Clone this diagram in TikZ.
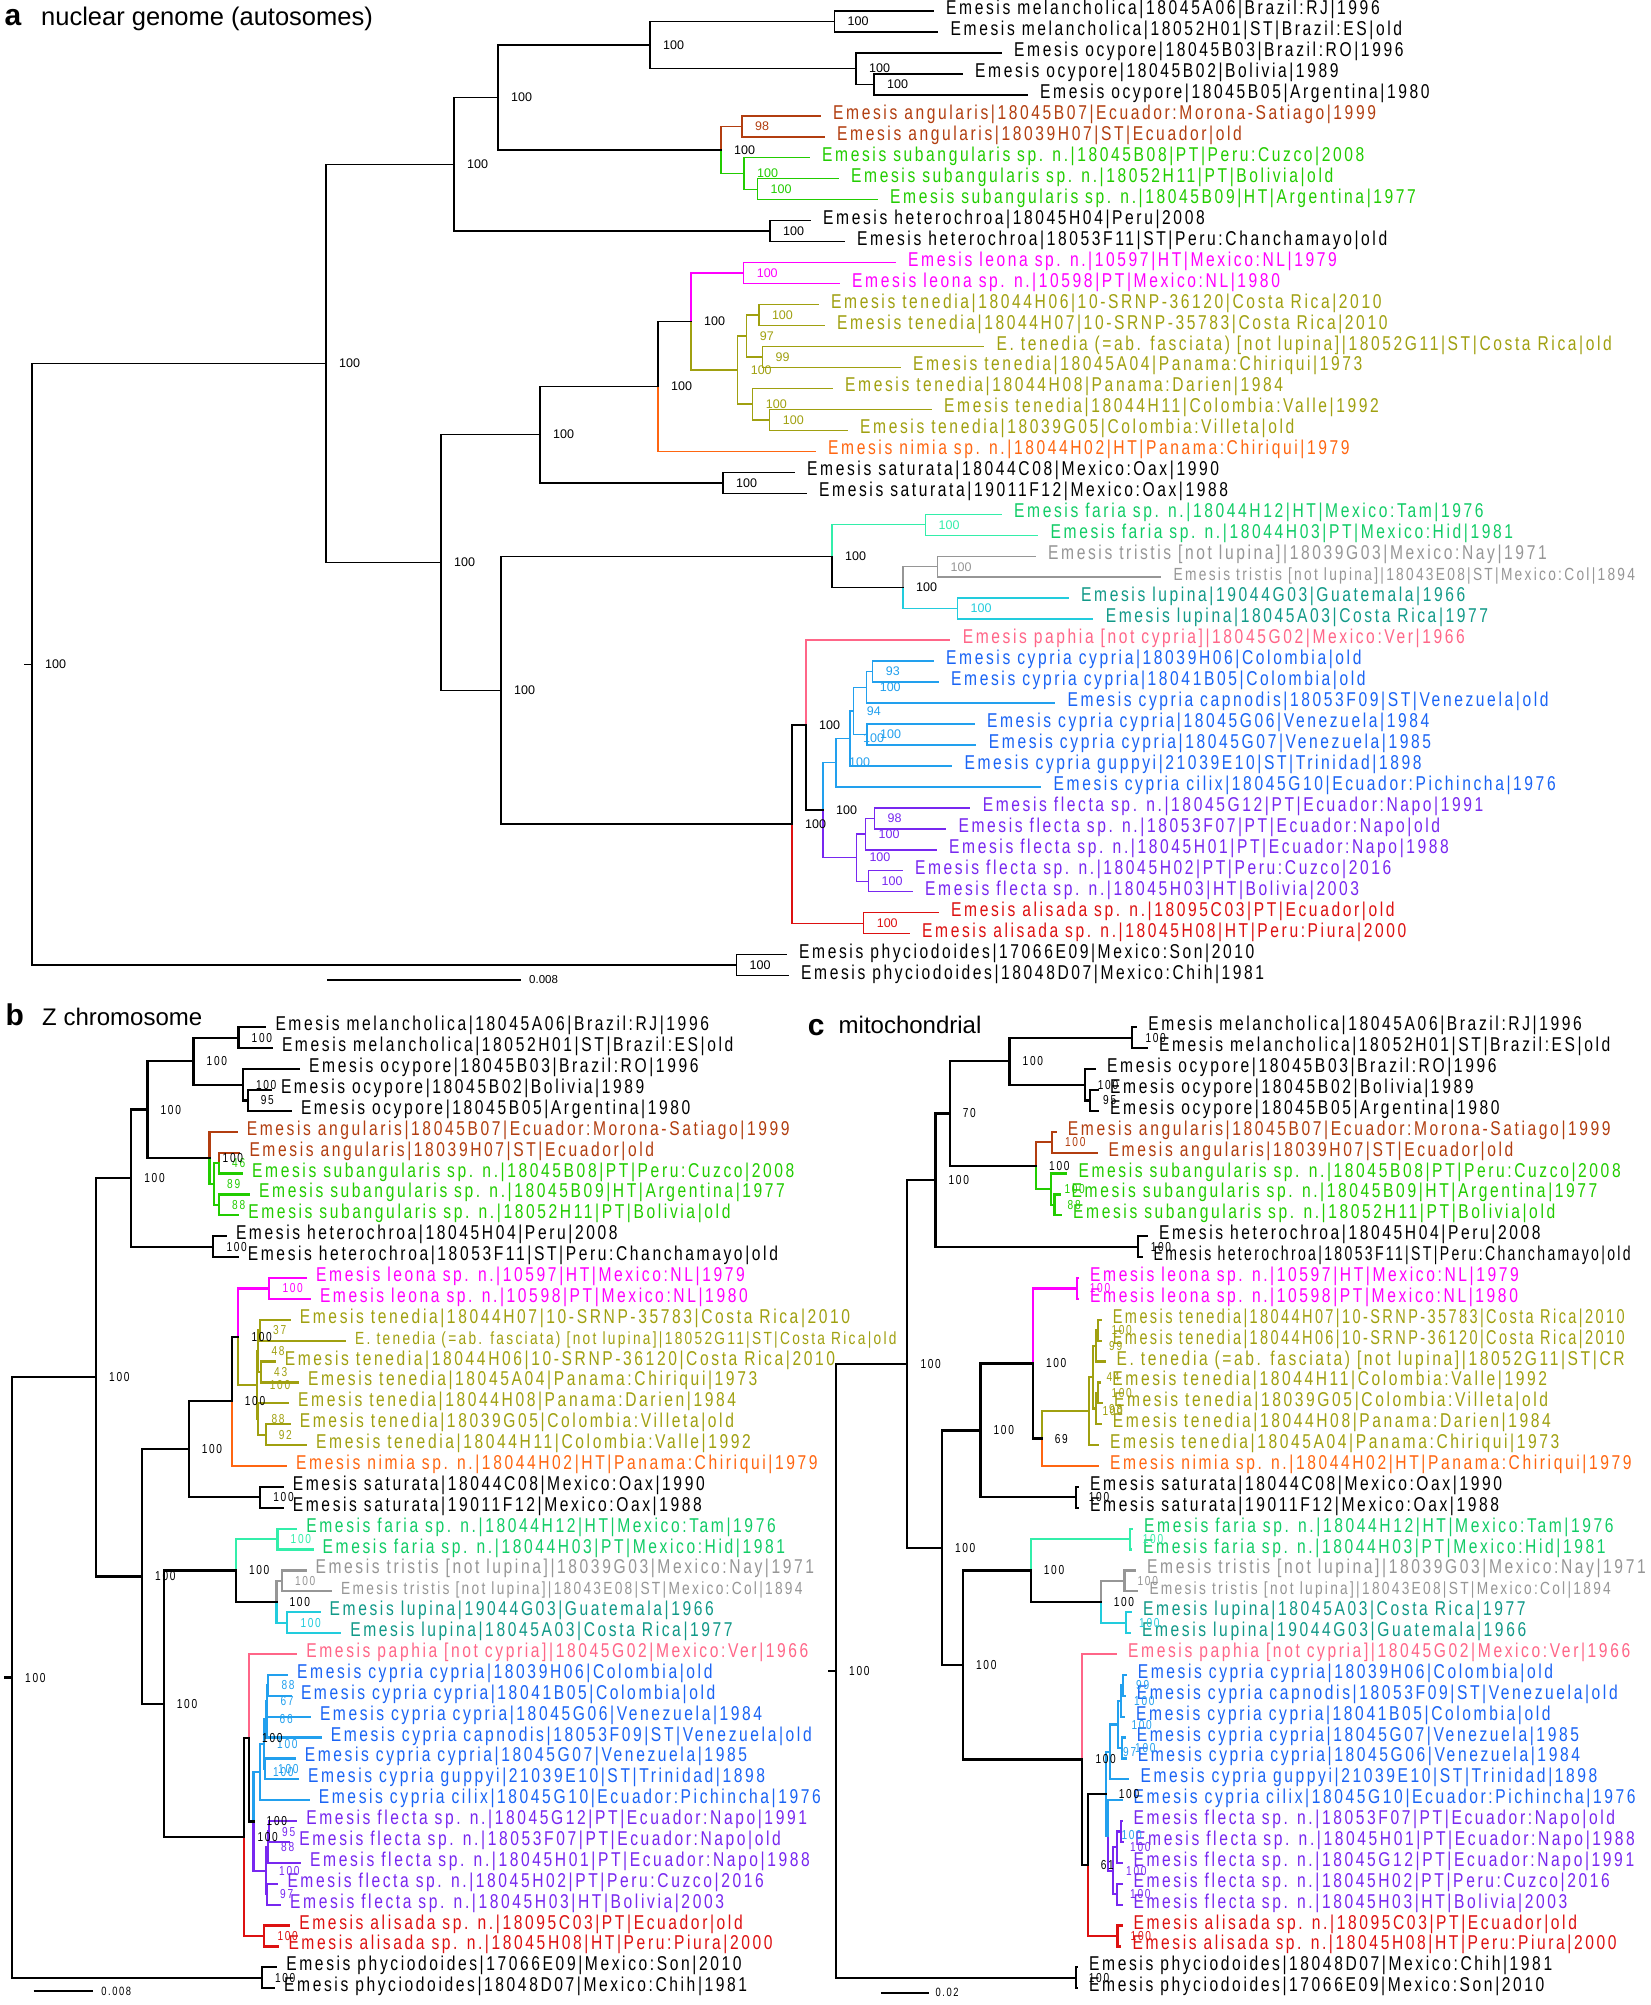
\documentclass[tikz,border=0pt]{standalone}
\usepackage{fontspec}
\setmainfont{Liberation Sans}
\newfontfamily\tipfont[FakeStretch=0.78,LetterSpace=13]{Liberation Sans}
\newfontfamily\plainfont{Liberation Sans}
\usepackage{tikz}
\usetikzlibrary{calc}

\definecolor{cAng}{RGB}{178,62,16}
\definecolor{cSub}{RGB}{34,204,0}
\definecolor{cLeo}{RGB}{255,0,255}
\definecolor{cTen}{RGB}{160,160,16}
\definecolor{cNim}{RGB}{255,102,17}
\definecolor{cFarL}{RGB}{51,238,170}
\definecolor{cFarT}{RGB}{17,204,102}
\definecolor{cTri}{RGB}{150,150,150}
\definecolor{cLupL}{RGB}{34,204,221}
\definecolor{cLupT}{RGB}{17,153,136}
\definecolor{cPap}{RGB}{255,102,136}
\definecolor{cCypL}{RGB}{34,160,238}
\definecolor{cCypT}{RGB}{26,100,245}
\definecolor{cFle}{RGB}{120,40,240}
\definecolor{cAli}{RGB}{221,17,17}

% tip rows of the current tree
\newcommand{\tipgap}{13pt}
\newcommand{\tipyzero}{11}
\newcommand{\tipdy}{20.97}

% leaf: name, row, end of branch, colour/style, label
\newcommand{\leaf}[5]{%
  \pgfmathsetmacro{\leafy}{\tipyzero+(#2-1)*\tipdy}%
  \coordinate (#1) at (#3,\leafy);
  \node[tiplab,#4] (#1t) at ([xshift=\tipgap]#1) {#5};}

% clade: name, x, child, colour, child, colour, support, colour
\newcommand{\clade}[8]{%
  \path let \p1=($(#3)!.5!(#5)$) in (#2pt,\y1) coordinate (#1);
  \draw[branch,#4] (#1) |- (#3);
  \draw[branch,#6] (#1) |- (#5);
  \node[bs,#8] (#1s) at ([xshift=13pt]#1) {#7};}

% squeezed label
\newcommand{\narrow}[2]{\scalebox{#1}[1]{#2}}

\tikzset{
  tiplab/.style={anchor=west,inner sep=0pt,text height=0.75em,text depth=0.05em,
    font=\tipfont\fontsize{20}{22}\selectfont},
  tipsmall/.style={font=\tipfont\fontsize{17.6}{19}\selectfont},
  branch/.style={line width=1.4pt,line cap=rect},
  bs/.style={anchor=west,inner sep=0pt,font=\plainfont\fontsize{12.5}{14}\selectfont},
  paneltag/.style={anchor=base west,inner sep=0pt,font=\plainfont\bfseries\fontsize{30}{32}\selectfont},
  paneltitle/.style={anchor=base west,inner sep=0pt,font=\plainfont\fontsize{24}{26}\selectfont}
}

\begin{document}
\begin{tikzpicture}[x=1pt,y=-1pt]
\fill[white] (0,0) rectangle (1650,2005);
\useasboundingbox (0,0) rectangle (1650,2005);

%% a: nuclear genome
\node[paneltag] (atag) at (4.5,25) {a};
\node[paneltitle,font=\plainfont\fontsize{25.5}{27}\selectfont] (atitle) at (41,25) {nuclear genome (autosomes)};

\leaf{a1}{1}{933}{black}{Emesis melancholica|18045A06|Brazil:RJ|1996}
\leaf{a2}{2}{937.5}{black}{Emesis melancholica|18052H01|ST|Brazil:ES|old}
\leaf{a3}{3}{1001}{black}{Emesis ocypore|18045B03|Brazil:RO|1996}
\leaf{a4}{4}{962}{black}{Emesis ocypore|18045B02|Bolivia|1989}
\leaf{a5}{5}{1027}{black}{Emesis ocypore|18045B05|Argentina|1980}
\leaf{a6}{6}{820}{cAng}{Emesis angularis|18045B07|Ecuador:Morona-Satiago|1999}
\leaf{a7}{7}{824}{cAng}{Emesis angularis|18039H07|ST|Ecuador|old}
\leaf{a8}{8}{809}{cSub}{Emesis subangularis sp. n.|18045B08|PT|Peru:Cuzco|2008}
\leaf{a9}{9}{838}{cSub}{Emesis subangularis sp. n.|18052H11|PT|Bolivia|old}
\leaf{a10}{10}{877}{cSub}{Emesis subangularis sp. n.|18045B09|HT|Argentina|1977}
\leaf{a11}{11}{810}{black}{Emesis heterochroa|18045H04|Peru|2008}
\leaf{a12}{12}{844}{black}{Emesis heterochroa|18053F11|ST|Peru:Chanchamayo|old}
\leaf{a13}{13}{895}{cLeo}{Emesis leona sp. n.|10597|HT|Mexico:NL|1979}
\leaf{a14}{14}{839}{cLeo}{Emesis leona sp. n.|10598|PT|Mexico:NL|1980}
\leaf{a15}{15}{818}{cTen}{Emesis tenedia|18044H06|10-SRNP-36120|Costa Rica|2010}
\leaf{a16}{16}{824}{cTen}{Emesis tenedia|18044H07|10-SRNP-35783|Costa Rica|2010}
\leaf{a17}{17}{983.5}{cTen}{E. tenedia (=ab. fasciata) [not lupina]|18052G11|ST|Costa Rica|old}
\leaf{a18}{18}{900}{cTen}{Emesis tenedia|18045A04|Panama:Chiriqui|1973}
\leaf{a19}{19}{832}{cTen}{Emesis tenedia|18044H08|Panama:Darien|1984}
\leaf{a20}{20}{931}{cTen}{Emesis tenedia|18044H11|Colombia:Valle|1992}
\leaf{a21}{21}{847}{cTen}{Emesis tenedia|18039G05|Colombia:Villeta|old}
\leaf{a22}{22}{815}{cNim}{Emesis nimia sp. n.|18044H02|HT|Panama:Chiriqui|1979}
\leaf{a23}{23}{794}{black}{Emesis saturata|18044C08|Mexico:Oax|1990}
\leaf{a24}{24}{806}{black}{Emesis saturata|19011F12|Mexico:Oax|1988}
\leaf{a25}{25}{1001}{cFarT}{Emesis faria sp. n.|18044H12|HT|Mexico:Tam|1976}
\leaf{a26}{26}{1037.5}{cFarT}{Emesis faria sp. n.|18044H03|PT|Mexico:Hid|1981}
\leaf{a27}{27}{1035}{cTri}{Emesis tristis [not lupina]|18039G03|Mexico:Nay|1971}
\leaf{a28}{28}{1160.5}{cTri,tipsmall}{Emesis tristis [not lupina]|18043E08|ST|Mexico:Col|1894}
\leaf{a29}{29}{1068}{cLupT}{Emesis lupina|19044G03|Guatemala|1966}
\leaf{a30}{30}{1092.6}{cLupT}{Emesis lupina|18045A03|Costa Rica|1977}
\leaf{a31}{31}{949.6}{cPap}{Emesis paphia [not cypria]|18045G02|Mexico:Ver|1966}
\leaf{a32}{32}{933}{cCypT}{Emesis cypria cypria|18039H06|Colombia|old}
\leaf{a33}{33}{938}{cCypT}{Emesis cypria cypria|18041B05|Colombia|old}
\leaf{a34}{34}{1054.4}{cCypT}{Emesis cypria capnodis|18053F09|ST|Venezuela|old}
\leaf{a35}{35}{973.9}{cCypT}{Emesis cypria cypria|18045G06|Venezuela|1984}
\leaf{a36}{36}{975.7}{cCypT}{Emesis cypria cypria|18045G07|Venezuela|1985}
\leaf{a37}{37}{951.4}{cCypT}{Emesis cypria guppyi|21039E10|ST|Trinidad|1898}
\leaf{a38}{38}{1040.5}{cCypT}{Emesis cypria cilix|18045G10|Ecuador:Pichincha|1976}
\leaf{a39}{39}{969.6}{cFle}{Emesis flecta sp. n.|18045G12|PT|Ecuador:Napo|1991}
\leaf{a40}{40}{945.4}{cFle}{Emesis flecta sp. n.|18053F07|PT|Ecuador:Napo|old}
\leaf{a41}{41}{936}{cFle}{Emesis flecta sp. n.|18045H01|PT|Ecuador:Napo|1988}
\leaf{a42}{42}{901.8}{cFle}{Emesis flecta sp. n.|18045H02|PT|Peru:Cuzco|2016}
\leaf{a43}{43}{912}{cFle}{Emesis flecta sp. n.|18045H03|HT|Bolivia|2003}
\leaf{a44}{44}{938}{cAli}{Emesis alisada sp. n.|18095C03|PT|Ecuador|old}
\leaf{a45}{45}{909}{cAli}{Emesis alisada sp. n.|18045H08|HT|Peru:Piura|2000}
\leaf{a46}{46}{786}{black}{Emesis phyciodoides|17066E09|Mexico:Son|2010}
\leaf{a47}{47}{788}{black}{Emesis phyciodoides|18048D07|Mexico:Chih|1981}

\clade{aMel}{834.5}{a1}{black}{a2}{black}{100}{black}
\clade{aOcB}{874}{a4}{black}{a5}{black}{100}{black}
\clade{aOc}{856}{a3}{black}{aOcB}{black}{100}{black}
\clade{aMO}{650}{aMel}{black}{aOc}{black}{100}{black}
\clade{aAng}{742}{a6}{cAng}{a7}{cAng}{98}{cAng}
\clade{aSubB}{757.5}{a9}{cSub}{a10}{cSub}{100}{cSub}
\clade{aSub}{744}{a8}{cSub}{aSubB}{cSub}{100}{cSub}
\clade{aAS}{721}{aAng}{cAng}{aSub}{cSub}{100}{black}
\clade{aMOAS}{498}{aMO}{black}{aAS}{black}{100}{black}
\clade{aHet}{770}{a11}{black}{a12}{black}{100}{black}
\clade{aTop}{454}{aMOAS}{black}{aHet}{black}{100}{black}
\clade{aLeo}{743.6}{a13}{cLeo}{a14}{cLeo}{100}{cLeo}
\clade{aTenA}{758.8}{a15}{cTen}{a16}{cTen}{100}{cTen}
\clade{aTenB}{762.4}{a17}{cTen}{a18}{cTen}{99}{cTen}
\clade{aTenAB}{746.7}{aTenA}{cTen}{aTenB}{cTen}{97}{cTen}
\clade{aTenC}{769.7}{a20}{cTen}{a21}{cTen}{100}{cTen}
\clade{aTenD}{752.7}{a19}{cTen}{aTenC}{cTen}{100}{cTen}
\clade{aTen}{737.6}{aTenAB}{cTen}{aTenD}{cTen}{100}{cTen}
\clade{aLT}{691}{aLeo}{cLeo}{aTen}{cTen}{100}{black}
\clade{aLTN}{658}{aLT}{black}{a22}{cNim}{100}{black}
\clade{aSat}{723}{a23}{black}{a24}{black}{100}{black}
\clade{aMid}{540}{aLTN}{black}{aSat}{black}{100}{black}
\clade{aFar}{925.4}{a25}{cFarL}{a26}{cFarL}{100}{cFarL}
\clade{aTri}{937.5}{a27}{cTri}{a28}{cTri}{100}{cTri}
\clade{aLup}{957.5}{a29}{cLupL}{a30}{cLupL}{100}{cLupL}
\clade{aTL}{903}{aTri}{cTri}{aLup}{cLupL}{100}{black}
\clade{aFTL}{832}{aFar}{cFarL}{aTL}{black}{100}{black}
\clade{aCyA}{872.7}{a32}{cCypL}{a33}{cCypL}{93}{cCypL}
\clade{aCyB}{866.6}{aCyA}{cCypL}{a34}{cCypL}{100}{cCypL}
\clade{aCyC}{867}{a35}{cCypL}{a36}{cCypL}{100}{cCypL}
\clade{aCyD}{853.6}{aCyB}{cCypL}{aCyC}{cCypL}{94}{cCypL}
\clade{aCyE}{850}{aCyD}{cCypL}{a37}{cCypL}{100}{cCypL}
\clade{aCyp}{836}{aCyE}{cCypL}{a38}{cCypL}{100}{cCypL}
\clade{aFleA}{874.5}{a39}{cFle}{a40}{cFle}{98}{cFle}
\clade{aFleB}{865.4}{aFleA}{cFle}{a41}{cFle}{100}{cFle}
\clade{aFleC}{868.4}{a42}{cFle}{a43}{cFle}{100}{cFle}
\clade{aFle}{856.3}{aFleB}{cFle}{aFleC}{cFle}{100}{cFle}
\clade{aCF}{823}{aCyp}{cCypL}{aFle}{cFle}{100}{black}
\clade{aPCF}{806}{a31}{cPap}{aCF}{black}{100}{black}
\clade{aAli}{863.6}{a44}{cAli}{a45}{cAli}{100}{cAli}
\clade{aPCFA}{792}{aPCF}{black}{aAli}{cAli}{100}{black}
\clade{aLow}{501}{aFTL}{black}{aPCFA}{black}{100}{black}
\clade{aBot}{441}{aMid}{black}{aLow}{black}{100}{black}
\clade{aIn}{326}{aTop}{black}{aBot}{black}{100}{black}
\clade{aPhy}{736.4}{a46}{black}{a47}{black}{100}{black}
\clade{aRoot}{32}{aIn}{black}{aPhy}{black}{100}{black}
\coordinate (aStub) at ([xshift=-7.5pt]aRoot);
\draw[branch] (aStub) -- (aRoot);

\coordinate (aBar0) at (327,980);
\coordinate (aBar1) at (521,980);
\draw[line width=1.4pt] (aBar0) -- (aBar1);
\node[bs,font=\plainfont\fontsize{11.5}{13}\selectfont] (aBarT) at ([xshift=8pt]aBar1) {0.008};

%% b: Z chromosome
\renewcommand{\tipgap}{10pt}
\renewcommand{\tipyzero}{1027.3}
\renewcommand{\tipdy}{20.89}
\begin{scope}[branch/.style={line width=2.2pt,line cap=rect},
  bs/.style={anchor=west,inner sep=0pt,font=\tipfont\fontsize{13}{14}\selectfont}]
\node[paneltag] (btag) at (5.4,1025) {b};
\node[paneltitle] (btitle) at (42,1025) {Z chromosome};

\leaf{b1}{1}{265.3}{black}{Emesis melancholica|18045A06|Brazil:RJ|1996}
\leaf{b2}{2}{271.8}{black}{Emesis melancholica|18052H01|ST|Brazil:ES|old}
\leaf{b3}{3}{299}{black}{Emesis ocypore|18045B03|Brazil:RO|1996}
\leaf{b4}{4}{270.8}{black}{Emesis ocypore|18045B02|Bolivia|1989}
\leaf{b5}{5}{290.8}{black}{Emesis ocypore|18045B05|Argentina|1980}
\leaf{b6}{6}{236.6}{cAng}{Emesis angularis|18045B07|Ecuador:Morona-Satiago|1999}
\leaf{b7}{7}{239.3}{cAng}{Emesis angularis|18039H07|ST|Ecuador|old}
\leaf{b8}{8}{242}{cSub}{Emesis subangularis sp. n.|18045B08|PT|Peru:Cuzco|2008}
\leaf{b9}{9}{249}{cSub}{Emesis subangularis sp. n.|18045B09|HT|Argentina|1977}
\leaf{b10}{10}{238.2}{cSub}{Emesis subangularis sp. n.|18052H11|PT|Bolivia|old}
\leaf{b11}{11}{225.8}{black}{Emesis heterochroa|18045H04|Peru|2008}
\leaf{b12}{12}{237.7}{black}{Emesis heterochroa|18053F11|ST|Peru:Chanchamayo|old}
\leaf{b13}{13}{306}{cLeo}{Emesis leona sp. n.|10597|HT|Mexico:NL|1979}
\leaf{b14}{14}{309.8}{cLeo}{Emesis leona sp. n.|10598|PT|Mexico:NL|1980}
\leaf{b15}{15}{289.7}{cTen}{Emesis tenedia|18044H07|10-SRNP-35783|Costa Rica|2010}
\leaf{b16}{16}{345}{cTen,tipsmall}{E. tenedia (=ab. fasciata) [not lupina]|18052G11|ST|Costa Rica|old}
\leaf{b17}{17}{274.6}{cTen}{Emesis tenedia|18044H06|10-SRNP-36120|Costa Rica|2010}
\leaf{b18}{18}{297.9}{cTen}{Emesis tenedia|18045A04|Panama:Chiriqui|1973}
\leaf{b19}{19}{288}{cTen}{Emesis tenedia|18044H08|Panama:Darien|1984}
\leaf{b20}{20}{289.7}{cTen}{Emesis tenedia|18039G05|Colombia:Villeta|old}
\leaf{b21}{21}{306}{cTen}{Emesis tenedia|18044H11|Colombia:Valle|1992}
\leaf{b22}{22}{286}{cNim}{Emesis nimia sp. n.|18044H02|HT|Panama:Chiriqui|1979}
\leaf{b23}{23}{282.7}{black}{Emesis saturata|18044C08|Mexico:Oax|1990}
\leaf{b24}{24}{282.7}{black}{Emesis saturata|19011F12|Mexico:Oax|1988}
\leaf{b25}{25}{296.2}{cFarT}{Emesis faria sp. n.|18044H12|HT|Mexico:Tam|1976}
\leaf{b26}{26}{312.5}{cFarT}{Emesis faria sp. n.|18044H03|PT|Mexico:Hid|1981}
\leaf{b27}{27}{305.4}{cTri}{Emesis tristis [not lupina]|18039G03|Mexico:Nay|1971}
\leaf{b28}{28}{331}{cTri,tipsmall}{Emesis tristis [not lupina]|18043E08|ST|Mexico:Col|1894}
\leaf{b29}{29}{319.5}{cLupT}{Emesis lupina|19044G03|Guatemala|1966}
\leaf{b30}{30}{340.1}{cLupT}{Emesis lupina|18045A03|Costa Rica|1977}
\leaf{b31}{31}{296.2}{cPap}{Emesis paphia [not cypria]|18045G02|Mexico:Ver|1966}
\leaf{b32}{32}{287}{cCypT}{Emesis cypria cypria|18039H06|Colombia|old}
\leaf{b33}{33}{290.8}{cCypT}{Emesis cypria cypria|18041B05|Colombia|old}
\leaf{b34}{34}{309.8}{cCypT}{Emesis cypria cypria|18045G06|Venezuela|1984}
\leaf{b35}{35}{320.6}{cCypT}{Emesis cypria capnodis|18053F09|ST|Venezuela|old}
\leaf{b36}{36}{294.6}{cCypT}{Emesis cypria cypria|18045G07|Venezuela|1985}
\leaf{b37}{37}{297.9}{cCypT}{Emesis cypria guppyi|21039E10|ST|Trinidad|1898}
\leaf{b38}{38}{308.7}{cCypT}{Emesis cypria cilix|18045G10|Ecuador:Pichincha|1976}
\leaf{b39}{39}{296.2}{cFle}{Emesis flecta sp. n.|18045G12|PT|Ecuador:Napo|1991}
\leaf{b40}{40}{289.2}{cFle}{Emesis flecta sp. n.|18053F07|PT|Ecuador:Napo|old}
\leaf{b41}{41}{300}{cFle}{Emesis flecta sp. n.|18045H01|PT|Ecuador:Napo|1988}
\leaf{b42}{42}{277.3}{cFle}{Emesis flecta sp. n.|18045H02|PT|Peru:Cuzco|2016}
\leaf{b43}{43}{280}{cFle}{Emesis flecta sp. n.|18045H03|HT|Bolivia|2003}
\leaf{b44}{44}{289.2}{cAli}{Emesis alisada sp. n.|18095C03|PT|Ecuador|old}
\leaf{b45}{45}{278.3}{cAli}{Emesis alisada sp. n.|18045H08|HT|Peru:Piura|2000}
\leaf{b46}{46}{276.2}{black}{Emesis phyciodoides|17066E09|Mexico:Son|2010}
\leaf{b47}{47}{274}{black}{Emesis phyciodoides|18048D07|Mexico:Chih|1981}

\clade{bMel}{238.5}{b1}{black}{b2}{black}{100}{black}
\clade{bOcB}{247.7}{b4}{black}{b5}{black}{95}{black}
\clade{bOc}{242.8}{b3}{black}{bOcB}{black}{100}{black}
\clade{bMO}{193.5}{bMel}{black}{bOc}{black}{100}{black}
\clade{bAS}{219}{b7}{cAng}{b8}{cSub}{46}{cSub}
\clade{bSubB}{219}{b9}{cSub}{b10}{cSub}{88}{cSub}
\clade{bSub}{214}{bAS}{cSub}{bSubB}{cSub}{89}{cSub}
\clade{bAng}{209.5}{b6}{cAng}{bSub}{cSub}{100}{black}
\clade{bMOA}{147.4}{bMO}{black}{bAng}{black}{100}{black}
\clade{bHet}{213.3}{b11}{black}{b12}{black}{100}{black}
\clade{bTop}{131.2}{bMOA}{black}{bHet}{black}{100}{black}
\clade{bLeo}{269.3}{b13}{cLeo}{b14}{cLeo}{100}{cLeo}
\clade{bTenA}{260}{b15}{cTen}{b16}{cTen}{37}{cTen}
\clade{bTenB}{261}{b17}{cTen}{b18}{cTen}{43}{cTen}
\clade{bTenAB}{258.3}{bTenA}{cTen}{bTenB}{cTen}{48}{cTen}
\clade{bTenC}{265.7}{b20}{cTen}{b21}{cTen}{92}{cTen}
\clade{bTenD}{258.3}{b19}{cTen}{bTenC}{cTen}{88}{cTen}
\clade{bTen}{256.7}{bTenAB}{cTen}{bTenD}{cTen}{100}{cTen}
\clade{bLT}{238.3}{bLeo}{cLeo}{bTen}{cTen}{100}{black}
\clade{bLTN}{231.7}{bLT}{black}{b22}{cNim}{100}{black}
\clade{bSat}{260.2}{b23}{black}{b24}{black}{100}{black}
\clade{bMid}{188.6}{bLTN}{black}{bSat}{black}{100}{black}
\clade{bFar}{277.5}{b25}{cFarL}{b26}{cFarL}{100}{cFarL}
\clade{bTri}{281.8}{b27}{cTri}{b28}{cTri}{100}{cTri}
\clade{bLup}{287.3}{b29}{cLupL}{b30}{cLupL}{100}{cLupL}
\clade{bTL}{276.4}{bTri}{cTri}{bLup}{cLupL}{100}{black}
\clade{bFTL}{235.8}{bFar}{cFarL}{bTL}{black}{100}{black}
\clade{bCyA}{268.3}{b32}{cCypL}{b33}{cCypL}{88}{cCypL}
\clade{bCyB}{267.3}{bCyA}{cCypL}{b34}{cCypL}{67}{cCypL}
\clade{bCyC}{266.5}{bCyB}{cCypL}{b35}{cCypL}{66}{cCypL}
\clade{bCyD}{265}{b36}{cCypL}{b37}{cCypL}{100}{cCypL}
\clade{bCyE}{264}{bCyC}{cCypL}{bCyD}{cCypL}{100}{cCypL}
\clade{bCyp}{260}{bCyE}{cCypL}{b38}{cCypL}{100}{cCypL}
\clade{bFleA}{269}{b39}{cFle}{b40}{cFle}{95}{cFle}
\clade{bFleB}{268}{bFleA}{cFle}{b41}{cFle}{88}{cFle}
\clade{bFleC}{267}{b42}{cFle}{b43}{cFle}{97}{cFle}
\clade{bFle}{266}{bFleB}{cFle}{bFleC}{cFle}{100}{cFle}
\clade{bCF}{253.5}{bCyp}{cCypL}{bFle}{cFle}{100}{black}
\clade{bPCF}{249}{b31}{cPap}{bCF}{black}{100}{black}
\clade{bAli}{264.3}{b44}{cAli}{b45}{cAli}{100}{cAli}
\clade{bPCFA}{244.3}{bPCF}{black}{bAli}{cAli}{100}{black}
\clade{bLow}{163.7}{bFTL}{black}{bPCFA}{black}{100}{black}
\clade{bBot}{142}{bMid}{black}{bLow}{black}{100}{black}
\clade{bIn}{96}{bTop}{black}{bBot}{black}{100}{black}
\clade{bPhy}{261.8}{b46}{black}{b47}{black}{100}{black}
\clade{bRoot}{12}{bIn}{black}{bPhy}{black}{100}{black}
\coordinate (bStub) at ([xshift=-6.6pt]bRoot);
\draw[branch] (bStub) -- (bRoot);

\coordinate (bBar0) at (33.6,1991);
\coordinate (bBar1) at (93.2,1991);
\draw[line width=2.2pt] (bBar0) -- (bBar1);
\node[bs,font=\tipfont\fontsize{12}{13}\selectfont] (bBarT) at ([xshift=8pt]bBar1) {0.008};
\end{scope}

%% c: mitochondrial
\renewcommand{\tipgap}{12pt}
\begin{scope}[branch/.style={line width=2.2pt,line cap=rect},
  bs/.style={anchor=west,inner sep=0pt,font=\tipfont\fontsize{13}{14}\selectfont}]
\node[paneltag] (ctag) at (807.6,1035) {c};
\node[paneltitle] (ctitle) at (838.5,1033) {mitochondrial};

\leaf{c1}{1}{1136.2}{black}{Emesis melancholica|18045A06|Brazil:RJ|1996}
\leaf{c2}{2}{1146.8}{black}{Emesis melancholica|18052H01|ST|Brazil:ES|old}
\leaf{c3}{3}{1095}{black}{Emesis ocypore|18045B03|Brazil:RO|1996}
\leaf{c4}{4}{1098}{black}{Emesis ocypore|18045B02|Bolivia|1989}
\leaf{c5}{5}{1098}{black}{Emesis ocypore|18045B05|Argentina|1980}
\leaf{c6}{6}{1055.7}{cAng}{Emesis angularis|18045B07|Ecuador:Morona-Satiago|1999}
\leaf{c7}{7}{1096.5}{cAng}{Emesis angularis|18039H07|ST|Ecuador|old}
\leaf{c8}{8}{1066.3}{cSub}{Emesis subangularis sp. n.|18045B08|PT|Peru:Cuzco|2008}
\leaf{c9}{9}{1059.5}{cSub}{Emesis subangularis sp. n.|18045B09|HT|Argentina|1977}
\leaf{c10}{10}{1061}{cSub}{Emesis subangularis sp. n.|18052H11|PT|Bolivia|old}
\leaf{c11}{11}{1146.8}{black}{Emesis heterochroa|18045H04|Peru|2008}
\leaf{c12}{12}{1141.5}{black}{\narrow{0.9}{Emesis heterochroa|18053F11|ST|Peru:Chanchamayo|old}}
\leaf{c13}{13}{1078}{cLeo}{Emesis leona sp. n.|10597|HT|Mexico:NL|1979}
\leaf{c14}{14}{1078}{cLeo}{Emesis leona sp. n.|10598|PT|Mexico:NL|1980}
\leaf{c15}{15}{1100.7}{cTen}{\narrow{0.93}{Emesis tenedia|18044H07|10-SRNP-35783|Costa Rica|2010}}
\leaf{c16}{16}{1100.7}{cTen}{\narrow{0.93}{Emesis tenedia|18044H06|10-SRNP-36120|Costa Rica|2010}}
\leaf{c17}{17}{1104.5}{cTen}{E. tenedia (=ab. fasciata) [not lupina]|18052G11|ST|CR}
\leaf{c18}{18}{1100.2}{cTen}{Emesis tenedia|18044H11|Colombia:Valle|1992}
\leaf{c19}{19}{1101.8}{cTen}{Emesis tenedia|18039G05|Colombia:Villeta|old}
\leaf{c20}{20}{1100.7}{cTen}{Emesis tenedia|18044H08|Panama:Darien|1984}
\leaf{c21}{21}{1098}{cTen}{Emesis tenedia|18045A04|Panama:Chiriqui|1973}
\leaf{c22}{22}{1098}{cNim}{Emesis nimia sp. n.|18044H02|HT|Panama:Chiriqui|1979}
\leaf{c23}{23}{1078}{black}{Emesis saturata|18044C08|Mexico:Oax|1990}
\leaf{c24}{24}{1078}{black}{Emesis saturata|19011F12|Mexico:Oax|1988}
\leaf{c25}{25}{1132}{cFarT}{Emesis faria sp. n.|18044H12|HT|Mexico:Tam|1976}
\leaf{c26}{26}{1131}{cFarT}{Emesis faria sp. n.|18044H03|PT|Mexico:Hid|1981}
\leaf{c27}{27}{1135}{cTri}{Emesis tristis [not lupina]|18039G03|Mexico:Nay|1971}
\leaf{c28}{28}{1137.3}{cTri,tipsmall}{Emesis tristis [not lupina]|18043E08|ST|Mexico:Col|1894}
\leaf{c29}{29}{1131}{cLupT}{Emesis lupina|18045A03|Costa Rica|1977}
\leaf{c30}{30}{1129.9}{cLupT}{Emesis lupina|19044G03|Guatemala|1966}
\leaf{c31}{31}{1116}{cPap}{Emesis paphia [not cypria]|18045G02|Mexico:Ver|1966}
\leaf{c32}{32}{1125.6}{cCypT}{Emesis cypria cypria|18039H06|Colombia|old}
\leaf{c33}{33}{1124.6}{cCypT}{Emesis cypria capnodis|18053F09|ST|Venezuela|old}
\leaf{c34}{34}{1124}{cCypT}{Emesis cypria cypria|18041B05|Colombia|old}
\leaf{c35}{35}{1124.6}{cCypT}{Emesis cypria cypria|18045G07|Venezuela|1985}
\leaf{c36}{36}{1125.6}{cCypT}{Emesis cypria cypria|18045G06|Venezuela|1984}
\leaf{c37}{37}{1128.3}{cCypT}{Emesis cypria guppyi|21039E10|ST|Trinidad|1898}
\leaf{c38}{38}{1121.4}{cCypT}{Emesis cypria cilix|18045G10|Ecuador:Pichincha|1976}
\leaf{c39}{39}{1121.4}{cFle}{Emesis flecta sp. n.|18053F07|PT|Ecuador:Napo|old}
\leaf{c40}{40}{1123}{cFle}{Emesis flecta sp. n.|18045H01|PT|Ecuador:Napo|1988}
\leaf{c41}{41}{1121.4}{cFle}{Emesis flecta sp. n.|18045G12|PT|Ecuador:Napo|1991}
\leaf{c42}{42}{1121.4}{cFle}{Emesis flecta sp. n.|18045H02|PT|Peru:Cuzco|2016}
\leaf{c43}{43}{1121.4}{cFle}{Emesis flecta sp. n.|18045H03|HT|Bolivia|2003}
\leaf{c44}{44}{1121.4}{cAli}{Emesis alisada sp. n.|18095C03|PT|Ecuador|old}
\leaf{c45}{45}{1120.3}{cAli}{Emesis alisada sp. n.|18045H08|HT|Peru:Piura|2000}
\leaf{c46}{46}{1077}{black}{Emesis phyciodoides|18048D07|Mexico:Chih|1981}
\leaf{c47}{47}{1077}{black}{Emesis phyciodoides|17066E09|Mexico:Son|2010}

\clade{cMel}{1132.3}{c1}{black}{c2}{black}{100}{black}
\clade{cOcB}{1090}{c4}{black}{c5}{black}{95}{black}
\clade{cOc}{1084.7}{c3}{black}{cOcB}{black}{100}{black}
\clade{cMO}{1009.5}{cMel}{black}{cOc}{black}{100}{black}
\clade{cAng}{1051.9}{c6}{cAng}{c7}{cAng}{100}{cAng}
\clade{cSubB}{1054.5}{c9}{cSub}{c10}{cSub}{88}{cSub}
\clade{cSub}{1051.3}{c8}{cSub}{cSubB}{cSub}{100}{cSub}
\clade{cAS}{1036}{cAng}{cAng}{cSub}{cSub}{100}{black}
\clade{cMOA}{949.7}{cMO}{black}{cAS}{black}{70}{black}
\clade{cHet}{1137.6}{c11}{black}{c12}{black}{100}{black}
\clade{cTop}{935.4}{cMOA}{black}{cHet}{black}{100}{black}
\clade{cLeo}{1076.7}{c13}{cLeo}{c14}{cLeo}{100}{cLeo}
\clade{cTenA}{1098.3}{c15}{cTen}{c16}{cTen}{100}{cTen}
\clade{cTenB}{1096}{cTenA}{cTen}{c17}{cTen}{99}{cTen}
\clade{cTenC}{1098.3}{c18}{cTen}{c19}{cTen}{100}{cTen}
\clade{cTenD}{1096}{cTenC}{cTen}{c20}{cTen}{98}{cTen}
\clade{cTenE}{1093.3}{cTenB}{cTen}{cTenD}{cTen}{44}{cTen}
\clade{cTen}{1089.3}{cTenE}{cTen}{c21}{cTen}{100}{cTen}
\clade{cTN}{1041.7}{cTen}{cTen}{c22}{cNim}{69}{black}
\clade{cLTN}{1032.8}{cLeo}{cLeo}{cTN}{black}{100}{black}
\clade{cSat}{1075.7}{c23}{black}{c24}{black}{100}{black}
\clade{cMid}{980.4}{cLTN}{black}{cSat}{black}{100}{black}
\clade{cFar}{1129.7}{c25}{cFarL}{c26}{cFarL}{100}{cFarL}
\clade{cTri}{1124.4}{c27}{cTri}{c28}{cTri}{100}{cTri}
\clade{cLup}{1126}{c29}{cLupL}{c30}{cLupL}{100}{cLupL}
\clade{cTL}{1100.6}{cTri}{cTri}{cLup}{cLupL}{100}{black}
\clade{cFTL}{1030.7}{cFar}{cFarL}{cTL}{black}{100}{black}
\clade{cCyA}{1123}{c32}{cCypL}{c33}{cCypL}{99}{cCypL}
\clade{cCyB}{1121}{cCyA}{cCypL}{c34}{cCypL}{100}{cCypL}
\clade{cCyC}{1122}{c35}{cCypL}{c36}{cCypL}{100}{cCypL}
\clade{cCyD}{1118.3}{cCyB}{cCypL}{cCyC}{cCypL}{100}{cCypL}
\clade{cCyp}{1110}{cCyD}{cCypL}{c37}{cCypL}{97}{cCypL}
\clade{cFleA}{1121}{c39}{cFle}{c40}{cFle}{}{cFle}
\clade{cFleB}{1117}{cFleA}{cFle}{c41}{cFle}{100}{cFle}
\clade{cFleC}{1117}{c42}{cFle}{c43}{cFle}{100}{cFle}
\clade{cFle}{1113}{cFleB}{cFle}{cFleC}{cFle}{100}{cFle}
\clade{cCilF}{1108.3}{c38}{cCypL}{cFle}{cFle}{100}{cCypL}
\clade{cCF}{1105.7}{cCyp}{cCypL}{cCilF}{cCypL}{100}{black}
\clade{cAli}{1117.5}{c44}{cAli}{c45}{cAli}{100}{cAli}
\clade{cCFA}{1087.7}{cCF}{black}{cAli}{cAli}{61}{black}
\clade{cPCF}{1082.3}{c31}{cPap}{cCFA}{black}{100}{black}
\clade{cLow}{962.9}{cFTL}{black}{cPCF}{black}{100}{black}
\clade{cBot}{941.8}{cMid}{black}{cLow}{black}{100}{black}
\clade{cIn}{907.3}{cTop}{black}{cBot}{black}{100}{black}
\clade{cPhy}{1075.7}{c46}{black}{c47}{black}{100}{black}
\clade{cRoot}{836}{cIn}{black}{cPhy}{black}{100}{black}
\coordinate (cStub) at ([xshift=-6.5pt]cRoot);
\draw[branch] (cStub) -- (cRoot);

\coordinate (cBar0) at (880.9,1992.7);
\coordinate (cBar1) at (928.5,1992.7);
\draw[line width=2.2pt] (cBar0) -- (cBar1);
\node[bs,font=\tipfont\fontsize{12}{13}\selectfont] (cBarT) at ([xshift=7pt]cBar1) {0.02};
\end{scope}
\end{tikzpicture}
\end{document}
